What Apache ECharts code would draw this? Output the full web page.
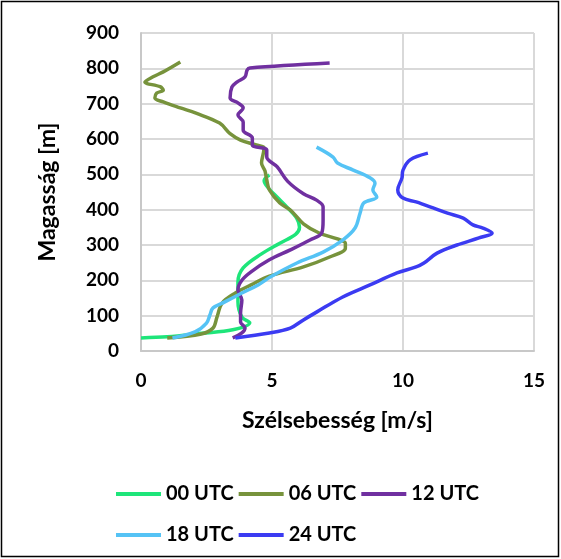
<!DOCTYPE html>
<html><head><meta charset="utf-8">
<script src="https://cdn.jsdelivr.net/npm/echarts@6/dist/echarts.min.js"></script>
<style>html,body{margin:0;padding:0;background:#fff}#c{width:561px;height:559px}</style>
</head><body><div id="c"></div>
<script>
const seriesNames = ['00 UTC','06 UTC','12 UTC','18 UTC','24 UTC'];
const colors = ['#1EE57A','#77933C','#7030A0','#55C3F5','#3B3BF2'];
// [wind speed m/s, height m]
const utc00 = [[0,37],[1.0,40],[2.3,50],[3.5,60],[4.15,80],[3.85,96],[3.7,140],[3.7,195],[3.9,235],[4.6,275],[5.3,305],[5.9,330],[6.05,350],[5.95,375],[5.6,405],[5.2,435],[4.85,462],[4.7,482],[4.9,498]];
const utc06 = [[1.0,37],[2.3,48],[2.75,65],[2.9,96],[3.1,136],[3.6,164],[4.2,187],[4.9,212],[6.2,238],[7.2,266],[7.8,291],[7.8,305],[7.5,317],[6.8,334],[6.2,360],[5.7,399],[5.3,419],[4.9,456],[4.8,484],[4.73,510],[4.6,532],[4.67,560],[4.7,575],[4.4,583],[3.8,597],[3.4,615],[3.0,645],[2.1,673],[1.5,688],[0.85,705],[0.53,716],[0.6,730],[0.85,738],[0.73,748],[0.15,761],[0.46,776],[0.85,790],[1.5,818]];
const utc12 = [[3.5,37],[3.85,51],[3.97,65],[3.8,82],[3.8,107],[3.85,144],[3.7,173],[3.85,200],[4.2,224],[4.9,258],[5.7,286],[6.45,314],[6.9,334],[6.95,371],[6.95,408],[6.7,427],[6.2,445],[5.6,480],[5.2,521],[4.8,549],[4.8,569],[4.25,583],[4.25,603],[3.9,625],[3.9,648],[3.7,668],[3.9,688],[3.7,702],[3.4,716],[3.47,747],[3.66,761],[3.97,776],[4.05,795],[4.16,801],[7.2,815]];
const utc18 = [[1.2,37],[2.06,54],[2.5,79],[2.63,102],[2.75,122],[3.2,139],[3.85,164],[4.47,187],[4.95,210],[5.95,249],[6.95,280],[7.7,314],[8.17,348],[8.36,390],[8.5,419],[9.0,436],[8.85,456],[8.93,475],[8.74,490],[8.1,512],[7.5,532],[7.33,549],[6.7,577]];
const utc24 = [[3.6,37],[4.9,51],[5.7,65],[6.2,88],[6.7,110],[7.7,153],[8.74,187],[9.77,221],[10.5,238],[10.8,249],[11.3,277],[12.06,300],[12.9,320],[13.4,334],[13.05,348],[12.67,357],[12.3,376],[11.7,390],[11.15,405],[10.5,422],[10.0,433],[9.8,456],[9.96,490],[10.0,512],[10.27,541],[10.95,560]];
const seriesData = [utc00, utc06, utc12, utc18, utc24];
const xTicks = {min:0, max:15, interval:5};
const yTicks = {min:0, max:900, interval:100};
const xTitle = 'Szélsebesség [m/s]';
const yTitle = 'Magasság [m]';

const FONT = 'Lato';
const chart = echarts.init(document.getElementById('c'), null, {renderer:'canvas'});
const legendText = {fontFamily:FONT, fontWeight:'bold', fontSize:20, color:'#000', width:71};
chart.setOption({
  animation:false,
  grid:{left:141, top:33, right:27, bottom:208, containLabel:false},
  xAxis:{type:'value', min:xTicks.min, max:xTicks.max, interval:xTicks.interval,
    name:xTitle, nameLocation:'middle', nameGap:58,
    nameTextStyle:{fontFamily:FONT, fontWeight:'bold', fontSize:23, color:'#000'},
    axisLine:{show:true, lineStyle:{color:'#c8c8c8', width:2}}, axisTick:{show:false},
    axisLabel:{fontFamily:FONT, fontWeight:'bold', fontSize:19, color:'#000', margin:20},
    splitLine:{show:true, lineStyle:{color:'#d9d9d9', width:2}}},
  yAxis:{type:'value', min:yTicks.min, max:yTicks.max, interval:yTicks.interval,
    name:yTitle, nameLocation:'middle', nameGap:82, nameRotate:90,
    nameTextStyle:{fontFamily:FONT, fontWeight:'bold', fontSize:23, color:'#000'},
    axisLine:{show:true, lineStyle:{color:'#c8c8c8', width:2}}, axisTick:{show:false},
    axisLabel:{fontFamily:FONT, fontWeight:'bold', fontSize:19, color:'#000', margin:22},
    splitLine:{show:true, lineStyle:{color:'#d9d9d9', width:2}}},
  legend:[
    {data:seriesNames.slice(0,3), left:111, top:479, itemWidth:45, itemHeight:4, itemGap:5, icon:'rect',
     textStyle:legendText},
    {data:seriesNames.slice(3), left:111, top:520, itemWidth:45, itemHeight:4, itemGap:5, icon:'rect',
     textStyle:legendText}
  ],
  graphic:[{type:'rect', shape:{x:1.5, y:1.5, width:557, height:555}, style:{fill:'none', stroke:'#000', lineWidth:1.5}, silent:true}],
  series: seriesNames.map((n,i)=>({name:n, type:'line', data:seriesData[i], smooth:0.35,
    showSymbol:false, symbol:'none', lineStyle:{color:colors[i], width:3.5}, itemStyle:{color:colors[i]}}))
});
</script></body></html>
